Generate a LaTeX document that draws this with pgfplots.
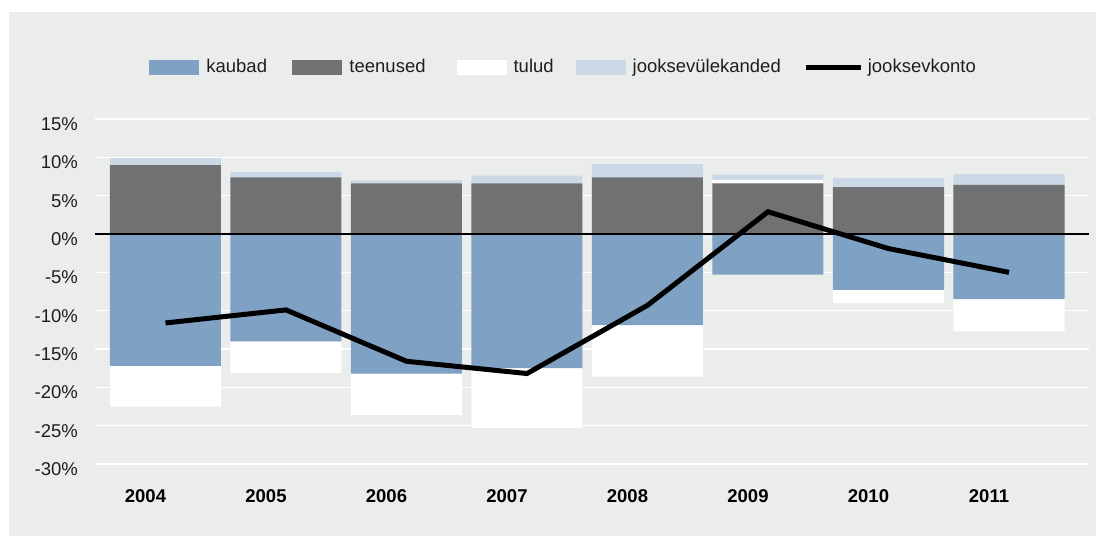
\documentclass[border=0pt]{standalone}
\usepackage{fontspec}
\setmainfont{Liberation Sans}
\usepackage{pgfplots}
\usepackage{pgfplotstable}
\pgfplotsset{compat=1.18}
\definecolor{kaubad}{HTML}{7FA2C4}
\definecolor{teenused}{HTML}{707173}
\definecolor{jv}{HTML}{CBD9E6}
\definecolor{bg}{HTML}{EBEDEC}
\definecolor{txt}{HTML}{1E1E1E}

\pgfplotstableread{
x kaubad teenused tuludpos tuludneg jv konto
0 -17.2 9.0 0.0 -5.3 0.9 -11.6
1 -14.0 7.4 0.0 -4.1 0.7 -9.9
2 -18.2 6.6 0.0 -5.4 0.4 -16.6
3 -17.5 6.6 0.0 -7.8 1.0 -18.2
4 -11.9 7.4 0.0 -6.7 1.7 -9.3
5 -5.3 6.6 0.5 0.0 0.65 2.9
6 -7.3 6.1 0.0 -1.7 1.2 -1.9
7 -8.5 6.4 0.0 -4.2 1.4 -5.0
}\datatable

\pgfplotsset{
  common/.style={
    at={(47.5pt,-232pt)}, anchor=south west,
    scale only axis, width=497pt, height=172.5pt,
    xmin=-0.585, xmax=7.664, ymin=-30, ymax=15,
    bar width=55.5pt,
  },
  mypatch/.style={legend image code/.code={\fill[##1] (0pt,-3.75pt) rectangle (25pt,3.75pt);}},
  myline/.style={legend image code/.code={\draw[##1] (0pt,0pt) -- (27.5pt,0pt);}},
}
\newcommand{\chartfont}{\fontsize{9.25}{11}\selectfont}
\begin{document}
\begin{tikzpicture}[font=\chartfont]
\fill[white] (0,0) rectangle (548pt,-268pt);
\fill[bg] (4.5pt,-6pt) rectangle (548pt,-268pt);
% axis A: grid, ticks, legend, positive stack
\begin{axis}[common, ybar stacked,
  axis line style={draw=none}, tick style={draw=none}, major tick length=0pt,
  ymajorgrids, grid style={white, line width=0.6pt},
  ytick={-30,-25,...,15},
  yticklabels={-30\%,-25\%,-20\%,-15\%,-10\%,-5\%,0\%,5\%,10\%,15\%},
  xtick={0,...,7},
  xticklabels={2004,2005,2006,2007,2008,2009,2010,2011},
  tick label style={font=\chartfont, text=txt},
  xticklabel style={font=\chartfont\bfseries, text=black, yshift=-9.5pt, xshift=-10pt},
  yticklabel style={yshift=-2.5pt, xshift=-5pt},
  legend columns=5,
  legend style={at={(0.0543,1.1493)}, anchor=west, draw=none, fill=none,
    inner sep=0pt, font=\chartfont, text=txt,
    /tikz/column 1/.style={column sep=1.5pt},
    /tikz/column 3/.style={column sep=1.5pt},
    /tikz/column 5/.style={column sep=1.5pt},
    /tikz/column 7/.style={column sep=1.5pt},
    /tikz/column 9/.style={column sep=0pt},
    /tikz/column 2/.style={column sep=10.7pt},
    /tikz/column 4/.style={column sep=13.5pt},
    /tikz/column 6/.style={column sep=9pt},
    /tikz/column 8/.style={column sep=9.5pt}},
]
\addlegendimage{fill=kaubad, draw=none, mypatch}
\addlegendentry{kaubad}
\addlegendimage{fill=teenused, draw=none, mypatch}
\addlegendentry{teenused}
\addlegendimage{fill=white, draw=none, mypatch}
\addlegendentry{tulud}
\addlegendimage{fill=jv, draw=none, mypatch}
\addlegendentry{jooksevülekanded}
\addlegendimage{black, line width=2.5pt, myline}
\addlegendentry{jooksevkonto}
\addplot[fill=teenused, draw=none] table[x=x, y=teenused] {\datatable};
\addplot[fill=white, draw=none] table[x=x, y=tuludpos] {\datatable};
\addplot[fill=jv, draw=none] table[x=x, y=jv] {\datatable};
\end{axis}
% axis B: negative stack
\begin{axis}[common, ybar stacked, hide axis]
\addplot[fill=kaubad, draw=none] table[x=x, y=kaubad] {\datatable};
\addplot[fill=white, draw=none] table[x=x, y=tuludneg] {\datatable};
\end{axis}
% axis C: zero line and current account
\begin{axis}[common, hide axis]
\addplot[black, line width=0.7pt] coordinates {(-0.585,0) (7.664,0)};
\addplot[black, line width=2.5pt] table[x=x, y=konto] {\datatable};
\end{axis}
\end{tikzpicture}
\end{document}
